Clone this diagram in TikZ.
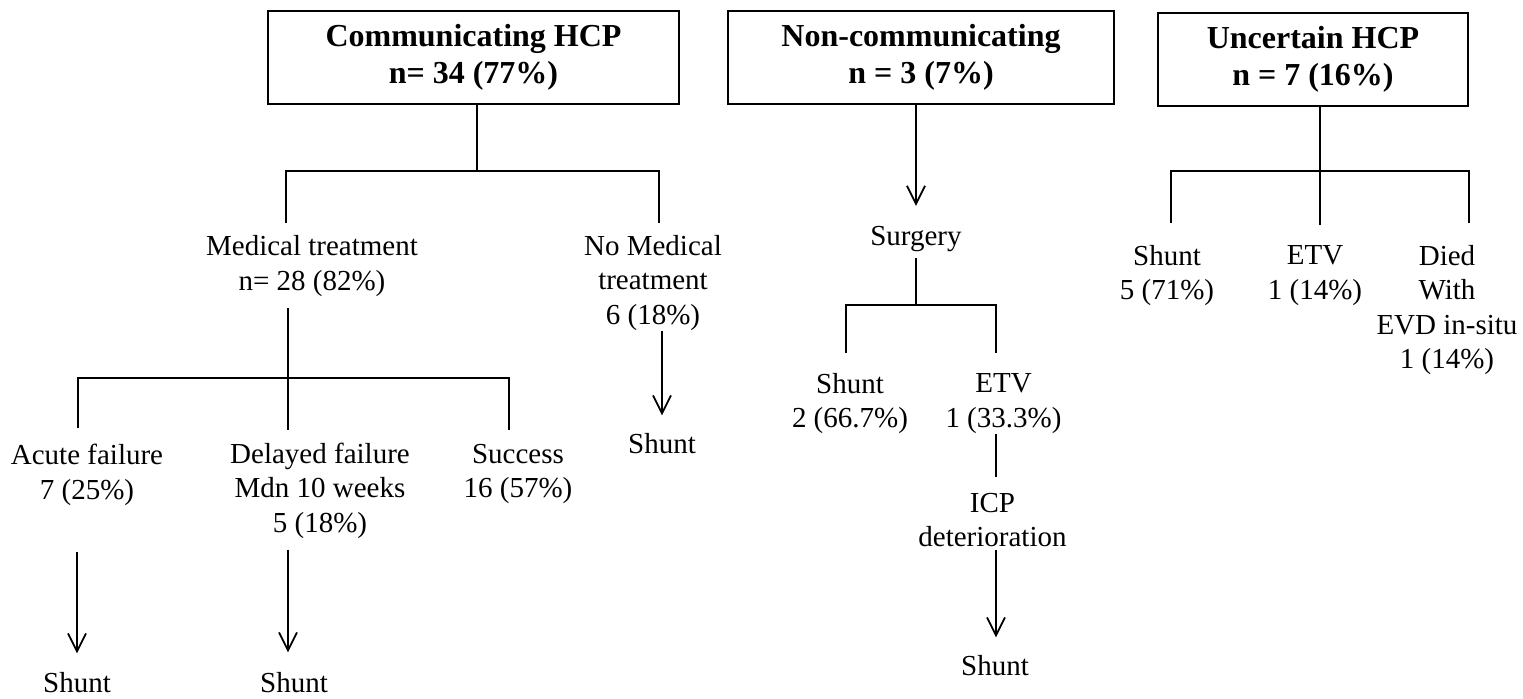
\documentclass[tikz,border=0pt]{standalone}
\usepackage{fontspec}
\setmainfont{Liberation Serif}
\usetikzlibrary{arrows.meta}

\begin{document}
\begin{tikzpicture}[
  x=0.5pt, y=-0.5pt,
  hcpbox/.style={draw, line width=0.8pt, align=center, inner sep=0pt,
    font=\bfseries\fontsize{16}{18.5}\selectfont},
  lbl/.style={align=center, inner sep=0pt, font=\fontsize{14.5}{17.25}\selectfont},
  link/.style={line width=0.9pt},
  arrow/.style={link, -{Straight Barb[length=9pt, width=9pt, line width=0.9pt]}}
]
\useasboundingbox (0,0) rectangle (1523,698);

\node[hcpbox, minimum width=205.5pt, minimum height=46.5pt] (chcp) at (473.5,57.5) {Communicating HCP\\n= 34 (77\%)};
\node[hcpbox, minimum width=193pt, minimum height=46.5pt] (ncom) at (921,57.5) {Non-communicating\\n = 3 (7\%)};
\node[hcpbox, minimum width=155pt, minimum height=46.5pt] (unc) at (1313,59.5) {Uncertain HCP\\n = 7 (16\%)};

\node[lbl] (med) at (312,266) {Medical treatment\\n= 28 (82\%)};
\node[lbl] (nomed) at (653,283) {No Medical\\treatment\\6 (18\%)};
\node[lbl] (shuntN) at (662,444) {Shunt};
\node[lbl] (acute) at (87,475) {Acute failure\\7 (25\%)};
\node[lbl] (delayed) at (320,490.5) {Delayed failure\\Mdn 10 weeks\\5 (18\%)};
\node[lbl] (success) at (518,474) {Success\\16 (57\%)};
\node[lbl] (shuntA) at (77,683) {Shunt};
\node[lbl] (shuntD) at (294,683) {Shunt};

\node[lbl] (surgery) at (916,239) {Surgery};
\node[lbl] (nshunt) at (850,403.5) {Shunt\\2 (66.7\%)};
\node[lbl] (netv) at (1003.5,403.5) {ETV\\1 (33.3\%)};
\node[lbl] (icp) at (992.5,520) {ICP\\deterioration};
\node[lbl] (nshunt2) at (995,666) {Shunt};

\node[lbl] (ushunt) at (1167,275.5) {Shunt\\5 (71\%)};
\node[lbl] (uetv) at (1315,275.5) {ETV\\1 (14\%)};
\node[lbl] (udied) at (1447,310) {Died\\With\\EVD in-situ\\1 (14\%)};

\coordinate (b1) at (477,171);
\coordinate (b1l) at (286,171);
\coordinate (b1r) at (659,171);
\coordinate (b2) at (288,378);
\coordinate (b2l) at (78,378);
\coordinate (b2r) at (509,378);
\coordinate (b3l) at (846,305);
\coordinate (b3r) at (996,305);
\coordinate (b4l) at (1171,171);
\coordinate (b4m) at (1320,171);
\coordinate (b4r) at (1469,171);

\draw[link] (b1 |- chcp.south) -- (b1);
\draw[link, shorten <=6pt, shorten >=6pt] (b1l |- med.north) |- (b1r) -- (b1r |- nomed.north);
\draw[link, shorten <=5.5pt] (b2 |- med.south) -- (b2);
\draw[link, shorten <=8pt, shorten >=7pt] (b2l |- acute.north) |- (b2r) -- (b2r |- success.north);
\draw[link, shorten >=6pt] (b2) -- (b2 |- delayed.north);
\draw[arrow, shorten <=23pt, shorten >=9.5pt] (shuntA |- acute.south) -- (shuntA.north);
\draw[arrow, shorten <=5.5pt, shorten >=10pt] (b2 |- delayed.south) -- (b2 |- shuntD.north);
\draw[arrow, shorten >=9pt] (shuntN |- nomed.south) -- (shuntN.north);

\draw[arrow, shorten >=10pt] (surgery.north |- ncom.south) -- (surgery.north);
\draw[link, shorten <=3pt] (surgery.south) -- (surgery.south |- b3l);
\draw[link, shorten <=10pt, shorten >=10pt] (b3l |- nshunt.north) |- (b3r) -- (b3r |- netv.north);
\draw[link, shorten >=8pt] (b3r |- netv.south) -- (b3r |- icp.north);
\draw[arrow, shorten <=1.5pt, shorten >=9pt] (b3r |- icp.south) -- (b3r |- nshunt2.north);

\draw[link] (b4m |- unc.south) -- (b4m);
\draw[link, shorten <=11pt, shorten >=11pt] (b4l |- ushunt.north) |- (b4r) -- (b4r |- udied.north);
\draw[link, shorten >=10pt] (b4m) -- (b4m |- uetv.north);
\end{tikzpicture}
\end{document}
